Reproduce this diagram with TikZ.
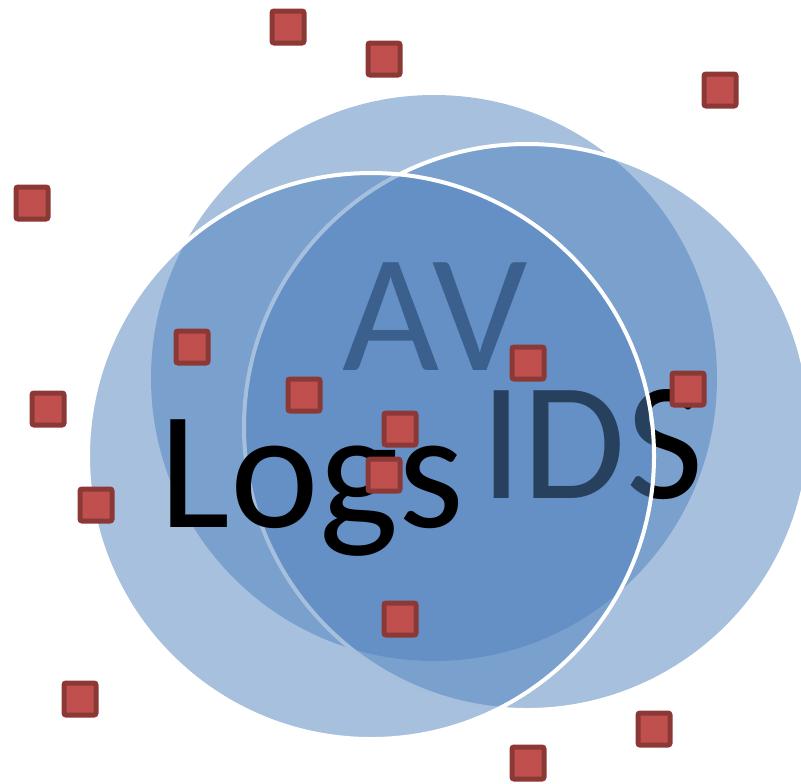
\documentclass[tikz,border=0pt]{standalone}
\usepackage{fontspec}
\setmainfont{Carlito}
\usepackage{tikz}
\usetikzlibrary{shapes,backgrounds}
\definecolor{vennblue}{HTML}{4F81BD}
\definecolor{markred}{HTML}{C0504D}
\definecolor{markrim}{HTML}{8C3836}
\newcommand{\bigword}{\fontsize{84}{84}\selectfont}
\tikzset{
  venn/.style={ circle, fill=vennblue, fill opacity=0.5, minimum size=283pt, inner sep=0pt }
}
\tikzset{
  vennrim/.style={ venn, draw=white, draw opacity=1, line width=2pt }
}
\tikzset{
  word/.style={ font=\bigword, text=black, inner sep=0pt, anchor=base }
}
\tikzset{
  sqmark/.style={ draw=markrim, fill=markred, line width=2.5pt, rounded corners=1pt, minimum size=16pt, inner sep=0pt }
}

\begin{document}
\begin{tikzpicture}[x=0.5pt, y=-0.5pt]
      \useasboundingbox (0, 0) rectangle (801, 783);
      \clip (0, 0) rectangle (801, 783);

      % circles back to front, each word under the next circle
      \node[venn] (av) at (434, 378) {};
      \node[word] (avword) at (435, 370) {AV};
      \node[vennrim] (ids) at (527, 427) {};
      \node[word] (idsword) at (592, 498) {IDS};
      \node[vennrim] (logs) at (371, 456) {};
      \node[word] (logsword) at (312, 527) {Logs};

      % the scattered markers
      \node[sqmark] (m1) at (288, 27) {};
      \node[sqmark] (m2) at (384, 59) {};
      \node[sqmark] (m3) at (720, 90) {};
      \node[sqmark] (m4) at (32, 203) {};
      \node[sqmark] (m5) at (192, 347) {};
      \node[sqmark] (m6) at (528, 363) {};
      \node[sqmark] (m7) at (688, 389) {};
      \node[sqmark] (m8) at (48, 409) {};
      \node[sqmark] (m9) at (304, 395) {};
      \node[sqmark] (m10) at (400, 429) {};
      \node[sqmark] (m11) at (384, 475) {};
      \node[sqmark] (m12) at (96, 505) {};
      \node[sqmark] (m13) at (400, 619) {};
      \node[sqmark] (m14) at (80, 699) {};
      \node[sqmark] (m15) at (654, 729) {};
      \node[sqmark] (m16) at (528, 763) {};
    \end{tikzpicture}
\end{document}
